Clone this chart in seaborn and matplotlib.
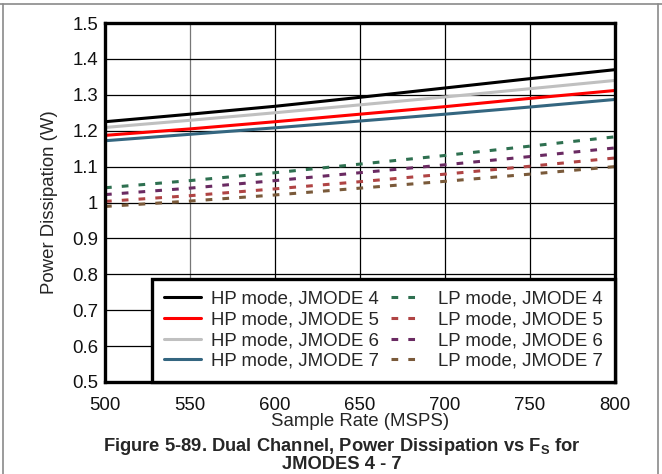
import numpy as np
import pandas as pd
import matplotlib
matplotlib.use('Agg')
import matplotlib.pyplot as plt
from matplotlib.lines import Line2D
import seaborn as sns

# Sample rate (MSPS)
fs = [500, 550, 600, 650, 700, 750, 800]

# Power dissipation (W)
hp_jmode4 = [1.225, 1.246, 1.268, 1.293, 1.319, 1.345, 1.370]
hp_jmode5 = [1.187, 1.205, 1.225, 1.246, 1.267, 1.290, 1.312]
hp_jmode6 = [1.209, 1.229, 1.250, 1.272, 1.294, 1.317, 1.340]
hp_jmode7 = [1.172, 1.190, 1.208, 1.227, 1.246, 1.266, 1.287]
lp_jmode4 = [1.041, 1.061, 1.083, 1.107, 1.131, 1.157, 1.183]
lp_jmode5 = [1.003, 1.019, 1.038, 1.058, 1.079, 1.101, 1.124]
lp_jmode6 = [1.022, 1.040, 1.061, 1.083, 1.105, 1.128, 1.152]
lp_jmode7 = [0.989, 1.004, 1.021, 1.040, 1.059, 1.079, 1.100]

series = [
    ('HP mode, JMODE 4', hp_jmode4, '#000000', 'solid'),
    ('HP mode, JMODE 5', hp_jmode5, '#ff0000', 'solid'),
    ('HP mode, JMODE 6', hp_jmode6, '#c0c0c0', 'solid'),
    ('HP mode, JMODE 7', hp_jmode7, '#346680', 'solid'),
    ('LP mode, JMODE 4', lp_jmode4, '#2e7050', 'dashed'),
    ('LP mode, JMODE 5', lp_jmode5, '#b04444', 'dashed'),
    ('LP mode, JMODE 6', lp_jmode6, '#6a2a62', 'dashed'),
    ('LP mode, JMODE 7', lp_jmode7, '#7a5a3a', 'dashed'),
]

rows = []
for name, vals, _, _ in series:
    for x, y in zip(fs, vals):
        rows.append({'fs': x, 'power': y, 'mode': name})
df = pd.DataFrame(rows)

sns.set_style('white')
plt.rcParams['font.family'] = ['Liberation Sans', 'DejaVu Sans']

fig = plt.figure(figsize=(6.62, 4.74), dpi=100)
ax = fig.add_axes([105 / 662, 1 - 382 / 474, 510 / 662, 359 / 474])

palette = {name: c for name, _, c, _ in series}
sns.lineplot(data=df, x='fs', y='power', hue='mode', palette=palette,
             ax=ax, legend=False, linewidth=2.2)

dash_seq = (2.2, 3.3)
for line, (name, _, _, style) in zip(ax.get_lines(), series):
    if style == 'dashed':
        line.set_dashes(dash_seq)
    line.set_solid_capstyle('butt')
    line.set_zorder(3)

ax.set_xlim(500, 800)
ax.set_ylim(0.5, 1.5)
ax.set_xticks(fs)
ax.set_yticks(np.arange(0.5, 1.51, 0.1))
ax.set_yticklabels(['0.5', '0.6', '0.7', '0.8', '0.9', '1', '1.1', '1.2', '1.3', '1.4', '1.5'])
ax.grid(True, color='black', linewidth=0.9)
ax.get_xgridlines()[1].set_color('#777777')
ax.tick_params(axis='both', length=0, labelsize=13.4, colors='#111111')
ax.tick_params(axis='x', pad=11)
ax.tick_params(axis='y', pad=5)
for sp in ax.spines.values():
    sp.set_linewidth(2.4)
    sp.set_color('black')
    sp.set_zorder(5)

ax.set_xlabel('Sample Rate (MSPS)', fontsize=13.4, labelpad=-1)
ax.set_ylabel('Power Dissipation (W)', fontsize=13.4, labelpad=10)

# legend: HP in first column, LP in second
handles = []
for name, _, c, style in series:
    if style == 'dashed':
        h = Line2D([], [], color=c, linewidth=2.2, dashes=(2.2, 3.3, 2.2, 10))
    else:
        h = Line2D([], [], color=c, linewidth=2.2)
    handles.append(h)
labels = [s[0] for s in series]
leg = ax.legend(handles, labels, ncol=2, loc='lower right',
                bbox_to_anchor=(1.0, 0.0), borderaxespad=0.0,
                fontsize=13.4, frameon=True, fancybox=False,
                handlelength=2.0, handletextpad=0.55, columnspacing=0.6,
                labelspacing=0.2, borderpad=0.65)
leg.get_frame().set_edgecolor('black')
leg.get_frame().set_linewidth(2.4)
leg.get_frame().set_facecolor('white')
leg.get_frame().set_alpha(1)
leg.set_zorder(6)

# caption below the chart (two lines in one text block)
fig.text(342 / 662, 1 - 473 / 474,
         'Figure 5-89. Dual Channel, Power Dissipation vs F$_\\mathregular{S}$ for\nJMODES 4 - 7',
         ha='center', va='bottom', ma='center', fontsize=13.2, fontweight='bold',
         linespacing=0.95, family=['Liberation Sans', 'DejaVu Sans'])

# page frame lines
for xs, ys in [([0, 1], [1 - 4 / 474, 1 - 4 / 474]),
               ([3 / 662, 3 / 662], [0, 1 - 4 / 474]),
               ([658 / 662, 658 / 662], [0, 1 - 4 / 474])]:
    fig.add_artist(Line2D(xs, ys, color='#8a8a8a', linewidth=1.2, transform=fig.transFigure))

fig.savefig('out.png', dpi=100)
